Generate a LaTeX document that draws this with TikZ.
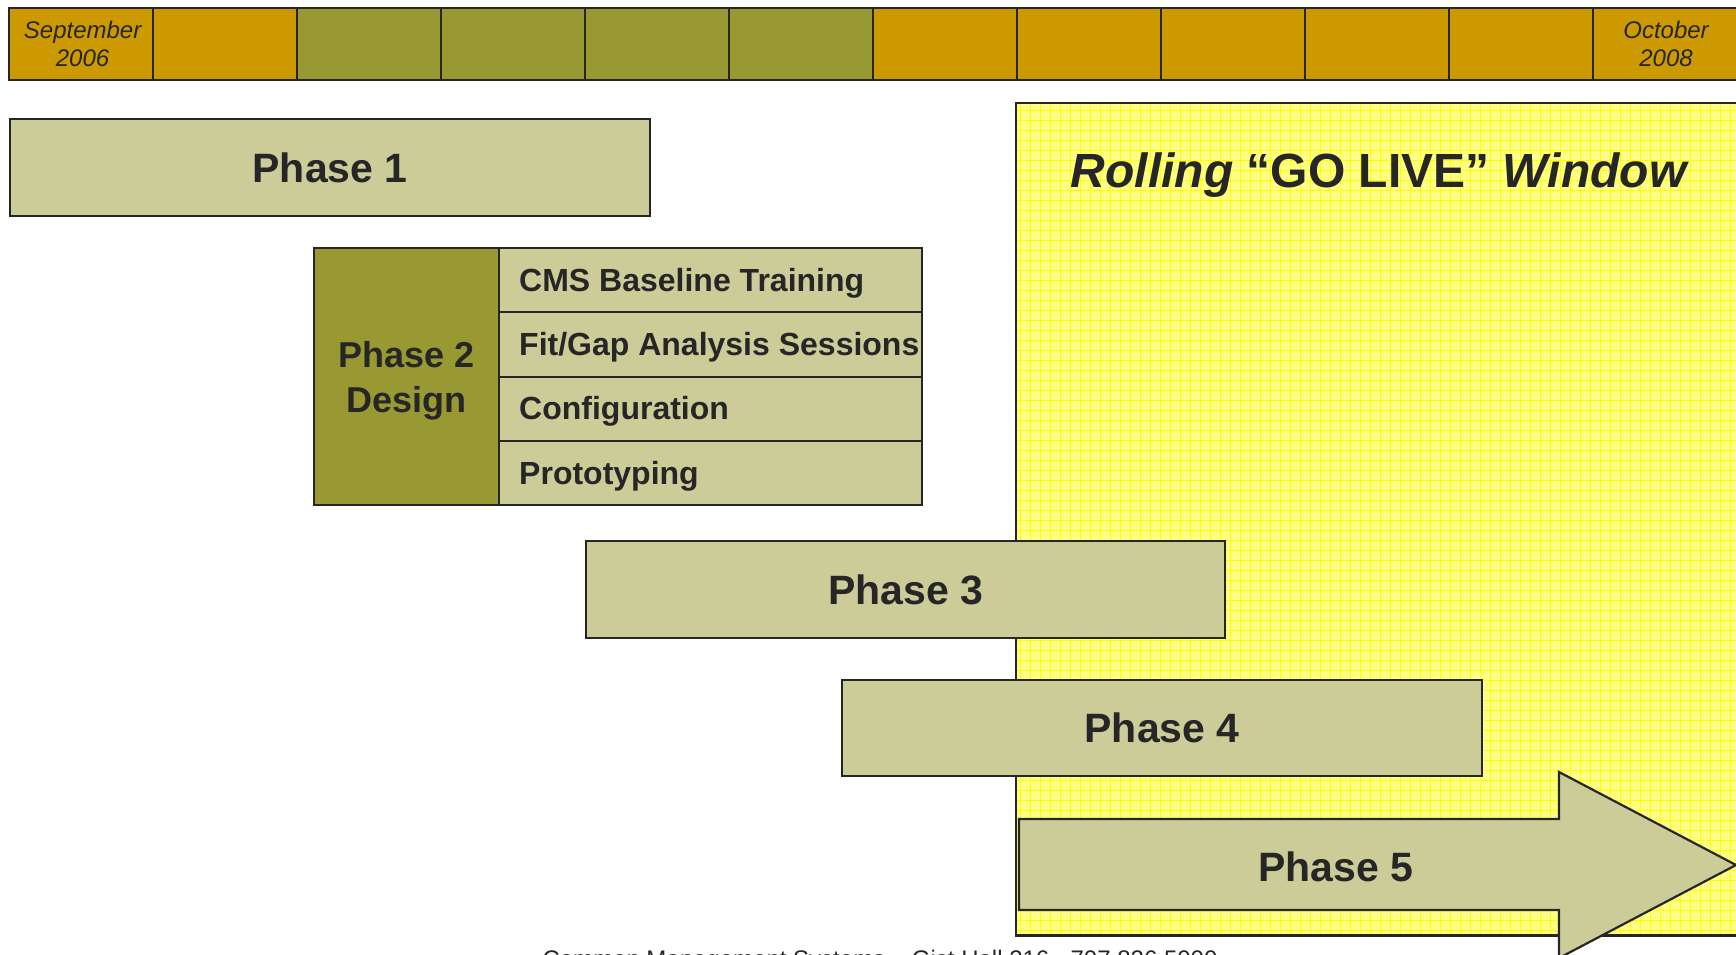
\documentclass[tikz,border=0pt]{standalone}
\usepackage{fontspec}
\setmainfont{Liberation Sans}
\definecolor{ink}{HTML}{262626}
\definecolor{barOchre}{HTML}{CC9900}
\definecolor{barOlive}{HTML}{999933}
\definecolor{phaseKhaki}{HTML}{CCCC99}
\definecolor{windowYellow}{HTML}{FFFF88}
\definecolor{gridYellow}{HTML}{FFFF00}
\begin{document}
\begin{tikzpicture}[x=1pt,y=-1pt,
  edge/.style={draw=ink,line width=2.2pt},
  cell/.style={edge,anchor=north west,minimum width=144,minimum height=72,inner sep=0},
  datetext/.style={text=ink,align=center,font=\fontsize{24}{27.6}\selectfont\itshape},
  phasebox/.style={edge,fill=phaseKhaki,anchor=north west,minimum width=640,minimum height=97,
    inner sep=0,text=ink,font=\fontsize{41}{49}\selectfont\bfseries},
  phasetext/.style={text=ink,font=\fontsize{41}{49}\selectfont\bfseries},
  rowbox/.style={edge,fill=phaseKhaki,anchor=north west,minimum width=423,minimum height=64.25,inner sep=0},
  rowtext/.style={text=ink,anchor=west,inner sep=0,font=\fontsize{32}{38}\selectfont\bfseries},
  gridline/.style={gridYellow,line width=0.8pt}]
\useasboundingbox (0,0) rectangle (1736,954);

% month bar
\foreach \i/\c in {1/barOchre,2/barOchre,3/barOlive,4/barOlive,5/barOlive,6/barOlive,
                   7/barOchre,8/barOchre,9/barOchre,10/barOchre,11/barOchre}
  \node[cell,fill=\c] (m\i) at ({8+144*(\i-1)},7) {};
\node[cell,fill=barOchre,minimum width=160] (m12) at (1592,7) {};
\node[datetext] (start) at ([xshift=1.5pt]m1.center) {September\\2006};
\node[datetext] (finish) at (1666,44) {October\\2008};

% go-live window with its grid
\node[anchor=north west,fill=windowYellow,minimum width=740,minimum height=832,inner sep=0] (win) at (1016,103) {};
\begin{scope}
  \clip (win.north west) rectangle (win.south east);
  \foreach \gx in {1020,1030,...,1750} \draw[gridline] (\gx,103) -- (\gx,935);
  \foreach \gy in {110,120,...,930} \draw[gridline] (1016,\gy) -- (1760,\gy);
\end{scope}
\draw[edge] (win.north west) rectangle (win.south east);
\node[text=ink,font=\fontsize{48}{58}\selectfont\bfseries] (golive) at (1380,175)
  {\textit{Rolling} “GO LIVE” \textit{Window}};

% phase 1
\node[phasebox] (p1) at (9,118) {Phase 1};

% phase 2 with its activities
\node[edge,fill=barOlive,anchor=north west,minimum width=185,minimum height=257,inner sep=0] (p2) at (313,247) {};
\node[text=ink,align=center,inner sep=0,font=\fontsize{36}{45.6}\selectfont\bfseries] (p2t)
  at ([yshift=-4pt]p2.center) {Phase 2\\Design};
\node[rowbox] (r1) at (498,247) {};
\node[rowbox] (r2) at (498,311.25) {};
\node[rowbox] (r3) at (498,375.5) {};
\node[rowbox] (r4) at (498,439.75) {};
\node[rowtext] (t1) at ([xshift=21pt,yshift=-3pt]r1.west) {CMS Baseline Training};
\node[rowtext] (t2) at ([xshift=21pt,yshift=-3pt]r2.west) {Fit/Gap Analysis Sessions};
\node[rowtext] (t3) at ([xshift=21pt,yshift=-3pt]r3.west) {Configuration};
\node[rowtext] (t4) at ([xshift=21pt,yshift=-3pt]r4.west) {Prototyping};

% phases 3 and 4
\node[phasebox,minimum width=639] (p3) at (585,540) {Phase 3};
\node[phasebox,minimum height=96] (p4) at (841,679) {Phase 4};

% phase 5 arrow
\draw[edge,fill=phaseKhaki,line join=miter]
  (1019,819) -- (1559,819) -- (1559,772) -- (1736,865) -- (1559,958) -- (1559,910) -- (1019,910) -- cycle;
\node[phasetext] (p5) at (1336,867) {Phase 5};

% footer
\node[text=ink,anchor=base,inner sep=0,font=\fontsize{24}{28}\selectfont] (foot) at (880,967)
  {Common Management Systems – Gist Hall 216 - 707 826 5000};
\end{tikzpicture}
\end{document}
